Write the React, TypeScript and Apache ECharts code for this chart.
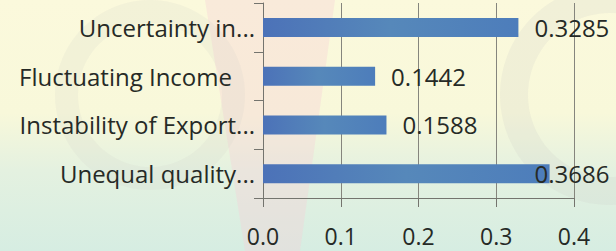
import React, { useEffect, useRef } from "react";
import * as echarts from "echarts";

const categories = [
  "Uncertainty in...",
  "Fluctuating Income",
  "Instability of Export...",
  "Unequal quality...",
];
const values = [0.3285, 0.1442, 0.1588, 0.3686];
const xTicks = [0, 0.1, 0.2, 0.3, 0.4];

const FONT = "'Open Sans', 'Noto Sans', sans-serif";
const TEXT = "#262a26";

export default function App() {
  const ref = useRef<HTMLDivElement>(null);
  useEffect(() => {
    document.body.style.margin = "0";
    const chart = echarts.init(ref.current!, null, { renderer: "svg" });
    chart.setOption({
      animation: false,
      backgroundColor: {
        type: "linear",
        x: 0,
        y: 0,
        x2: 0,
        y2: 1,
        colorStops: [
          { offset: 0, color: "#fbf9dc" },
          { offset: 0.45, color: "#f8f8da" },
          { offset: 0.68, color: "#e4f1e0" },
          { offset: 1, color: "#d6ede2" },
        ],
      },
      graphic: [
        {
          type: "polygon",
          silent: true,
          z: -10,
          shape: { points: [[205, 0], [335, 0], [300, 251], [245, 251]] },
          style: { fill: "rgba(246,205,215,0.35)" },
        },
        {
          type: "ring",
          silent: true,
          z: -10,
          shape: { cx: 150, cy: 95, r: 95, r0: 72 },
          style: { fill: "rgba(205,205,198,0.16)" },
        },
        {
          type: "ring",
          silent: true,
          z: -10,
          shape: { cx: 610, cy: 95, r: 110, r0: 82 },
          style: { fill: "rgba(205,205,198,0.2)" },
        },
      ],
      grid: { left: 263, top: 3, width: 311, height: 195, containLabel: false },
      xAxis: {
        type: "value",
        min: xTicks[0],
        max: xTicks[xTicks.length - 1],
        interval: 0.1,
        axisLine: { show: true, lineStyle: { color: "#74746e", width: 1 } },
        axisTick: { show: true, length: 9, lineStyle: { color: "#74746e" } },
        splitLine: { show: true, lineStyle: { color: "#85857d", width: 1 } },
        axisLabel: {
          margin: 27,
          fontFamily: FONT,
          fontSize: 23,
          lineHeight: 22,
          color: TEXT,
          formatter: (v: number) => v.toFixed(1),
        },
      },
      yAxis: {
        type: "category",
        inverse: true,
        data: categories,
        axisLine: { show: true, lineStyle: { color: "#74746e", width: 1 } },
        axisTick: { show: true, length: 9, lineStyle: { color: "#74746e" } },
        axisLabel: {
          margin: 8,
          fontFamily: FONT,
          fontSize: 24,
          color: TEXT,
          formatter: (v: string) =>
            v.endsWith("...") ? v : "{pad|" + v + "}",
          rich: {
            pad: {
              fontFamily: FONT,
              fontSize: 24,
              color: TEXT,
              padding: [0, 23, 0, 0],
            },
          },
        },
      },
      series: [
        {
          type: "bar",
          barWidth: 19,
          data: values.map((v, i) =>
            i === values.length - 1 ? { value: v, label: { offset: [-31, 0] } } : v
          ),
          itemStyle: {
            color: {
              type: "linear",
              x: 0,
              y: 0,
              x2: 1,
              y2: 0,
              colorStops: [
                { offset: 0, color: "#4c72b8" },
                { offset: 0.5, color: "#5688ba" },
                { offset: 1, color: "#4d7dbb" },
              ],
            },
          },
          label: {
            show: true,
            position: "right",
            distance: 16,
            fontFamily: FONT,
            fontSize: 24,
            color: TEXT,
            formatter: (p: any) => p.value.toFixed(4),
          },
        },
      ],
    });
    return () => chart.dispose();
  }, []);
  return (
    <div
      ref={ref}
      style={{ position: "absolute", left: 0, top: 0, width: 616, height: 251 }}
    />
  );
}
